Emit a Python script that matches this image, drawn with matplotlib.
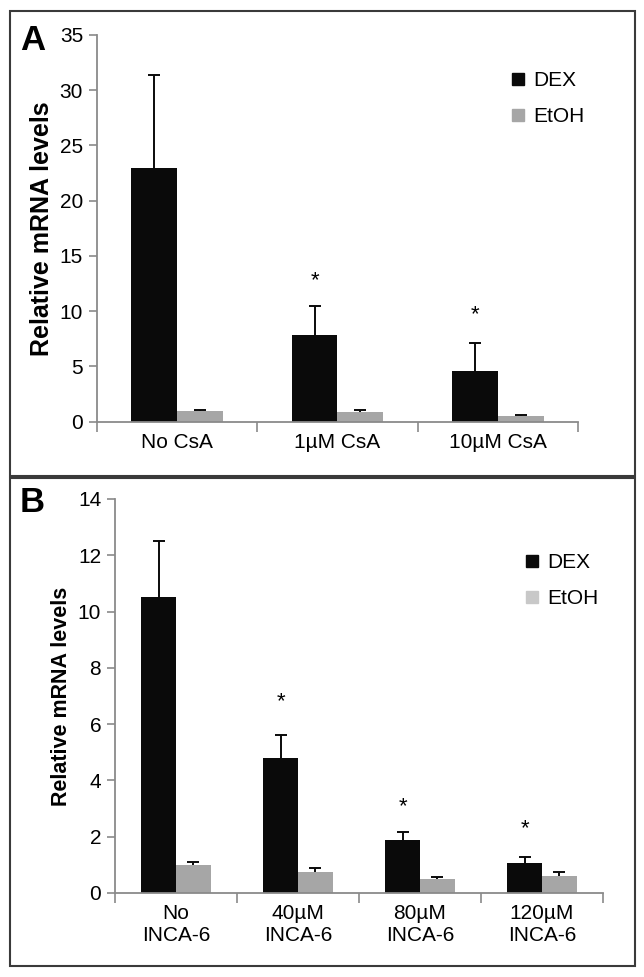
import numpy as np
import matplotlib
matplotlib.use("Agg")
from matplotlib import pyplot as plt
from matplotlib.lines import Line2D
from matplotlib.patches import Rectangle

plt.rcParams['font.family'] = ['Liberation Sans', 'DejaVu Sans']

# panel A data
cats_a = ["No CsA", "1\u00b5M CsA", "10\u00b5M CsA"]
dex_a = [23.0, 7.8, 4.6]
dex_a_err = [8.4, 2.7, 2.5]
etoh_a = [0.95, 0.9, 0.5]
etoh_a_err = [0.1, 0.2, 0.08]
star_a = [None, 12.8, 9.7]

# panel B data
cats_b = ["No\nINCA-6", "40\u00b5M\nINCA-6", "80\u00b5M\nINCA-6", "120\u00b5M\nINCA-6"]
dex_b = [10.5, 4.78, 1.88, 1.05]
dex_b_err = [2.0, 0.82, 0.27, 0.23]
etoh_b = [1.0, 0.76, 0.49, 0.62]
etoh_b_err = [0.1, 0.13, 0.08, 0.14]
star_b = [None, 6.8, 3.05, 2.3]

DEX_COL = '#0a0a0a'
ETOH_COL = '#a6a6a6'
AX_COL = '#8a8a8a'


def upper_err(ax, xs, ys, errs):
  # excel style: only the upper half of the error bar
  eb = ax.errorbar(xs, ys, yerr=[np.zeros(len(ys)), errs], fmt='none',
                   ecolor=DEX_COL, elinewidth=1.4, capsize=4, capthick=1.4, zorder=3)
  eb[1][0].set_visible(False)


def panel(ax, cats, dex, dex_err, etoh, etoh_err, stars, ymax, ystep, etoh_leg, leg_anchor):
  x = np.arange(len(cats))
  w = 0.285
  ax.bar(x - w / 2, dex, w, color=DEX_COL, zorder=2)
  ax.bar(x + w / 2, etoh, w, color=ETOH_COL, zorder=2)
  upper_err(ax, x - w / 2, dex, dex_err)
  upper_err(ax, x + w / 2, etoh, etoh_err)
  for i, s in enumerate(stars):
    if s is not None:
      ax.text(x[i] - w / 2, s, '*', ha='center', va='center', fontsize=16)
  ax.set_xlim(-0.5, len(cats) - 0.5)
  ax.set_ylim(0, ymax)
  ax.set_yticks(np.arange(0, ymax + 0.01, ystep))
  ax.set_xticks(np.arange(-0.5, len(cats), 1.0))
  ax.set_xticklabels([])
  ax.set_xticks(x, minor=True)
  ax.set_xticklabels(cats, minor=True, fontsize=15)
  ax.tick_params(axis='x', which='minor', length=0, pad=8)
  ax.tick_params(axis='x', which='major', length=7, direction='out', color=AX_COL, width=1.2)
  ax.tick_params(axis='y', length=6, direction='out', color=AX_COL, width=1.2, labelsize=15, pad=4)
  for sp in ['top', 'right']:
    ax.spines[sp].set_visible(False)
  for sp in ['left', 'bottom']:
    ax.spines[sp].set_color(AX_COL)
    ax.spines[sp].set_linewidth(1.3)
  ax.set_ylabel('Relative mRNA levels', fontweight='bold')
  handles = [Line2D([], [], marker='s', ls='none', color=DEX_COL, markersize=8),
             Line2D([], [], marker='s', ls='none', color=etoh_leg, markersize=8)]
  ax.legend(handles, ['DEX', 'EtOH'], loc='upper left', bbox_to_anchor=leg_anchor,
            frameon=False, fontsize=15, handletextpad=0.3, labelspacing=0.8, handlelength=0.8)


fig = plt.figure(figsize=(6.44, 9.77), dpi=100)

ax_a = fig.add_axes([0.1506, 0.5684, 0.8975 - 0.1506, 0.9642 - 0.5684])
panel(ax_a, cats_a, dex_a, dex_a_err, etoh_a, etoh_a_err, star_a, 35, 5, ETOH_COL, (0.82, 0.955))
ax_a.yaxis.label.set_size(18)

ax_b = fig.add_axes([0.1786, 0.0860, 0.9363 - 0.1786, 0.4893 - 0.0860])
panel(ax_b, cats_b, dex_b, dex_b_err, etoh_b, etoh_b_err, star_b, 14, 2, '#c8c8c8', (0.80, 0.91))
ax_b.yaxis.label.set_size(15.5)

# panel frames and letters
fig.patches.append(Rectangle((10 / 644, 1 - 476 / 977), 625 / 644, 465 / 977,
                             transform=fig.transFigure, fill=False, ec='#3a3a3a', lw=1.5))
fig.patches.append(Rectangle((10 / 644, 1 - 966 / 977), 625 / 644, 488 / 977,
                             transform=fig.transFigure, fill=False, ec='#3a3a3a', lw=1.5))
fig.text(20 / 644, 1 - 40 / 977, 'A', fontsize=25, fontweight='bold', va='center', ha='left')
fig.text(20 / 644, 1 - 503 / 977, 'B', fontsize=25, fontweight='bold', va='center', ha='left')

fig.savefig('out.png', dpi=100)
